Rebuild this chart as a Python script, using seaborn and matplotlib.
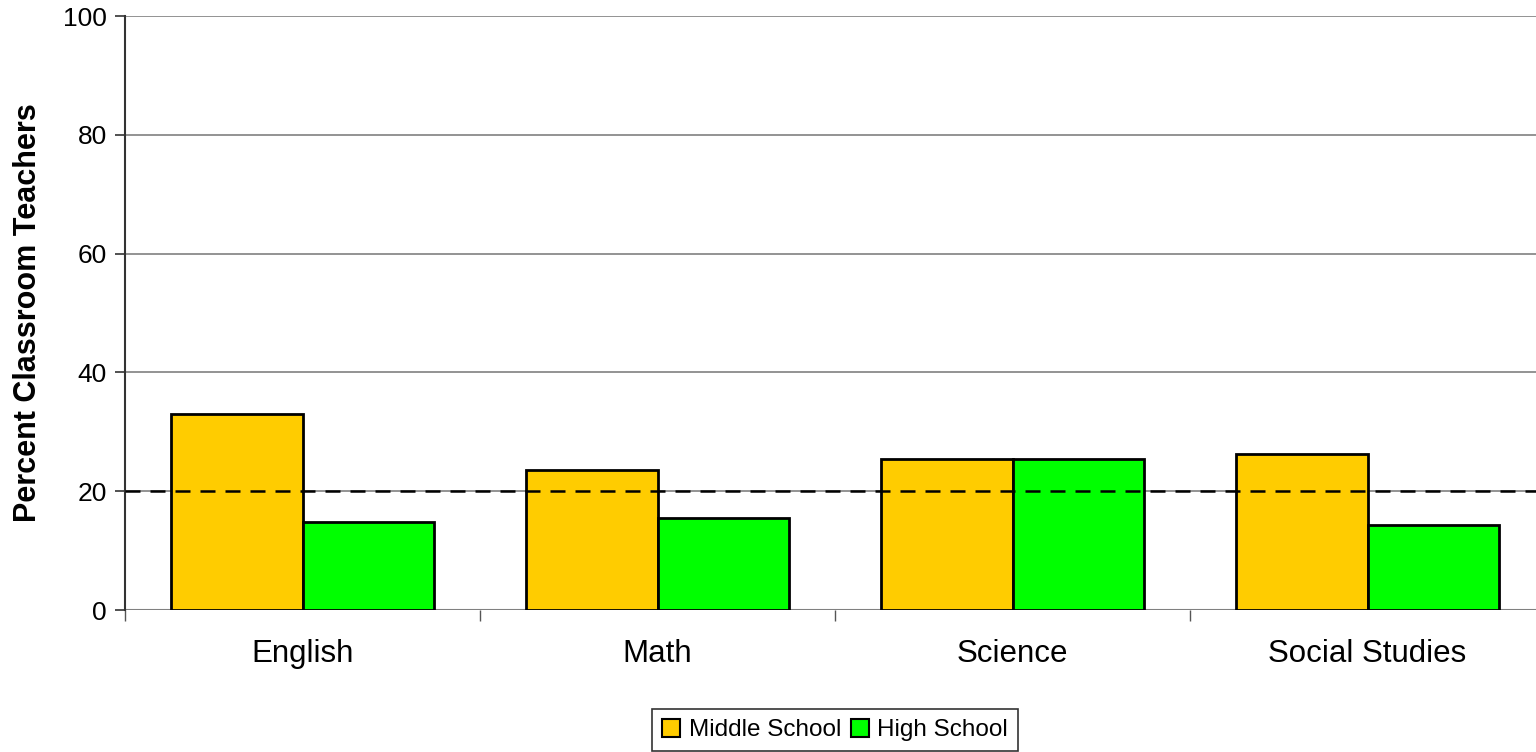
import numpy as np
import pandas as pd

import matplotlib
matplotlib.use("Agg")
import matplotlib.pyplot as plt
import seaborn as sns
from matplotlib.patches import Patch

sns.set_style("white")
plt.rcParams["font.family"] = ["Liberation Sans", "DejaVu Sans"]
plt.rcParams["text.color"] = "black"
plt.rcParams["axes.labelcolor"] = "black"
plt.rcParams["xtick.color"] = "black"
plt.rcParams["ytick.color"] = "black"

# --- data ---
subjects = ["English", "Math", "Science", "Social Studies"]
middle_school = [33.0, 23.6, 25.4, 26.3]
high_school = [14.8, 15.5, 25.4, 14.3]
levels = ["Middle School", "High School"]
level_colors = {"Middle School": "#FFCC00", "High School": "#00FF00"}
reference_line = 20

df = pd.DataFrame({
    "subject": subjects * 2,
    "level": [levels[0]] * len(subjects) + [levels[1]] * len(subjects),
    "value": middle_school + high_school,
})

fig = plt.figure(figsize=(15.36, 7.52), dpi=100)
ax = fig.add_axes([125 / 1536, 142 / 752, 1420 / 1536, 594 / 752])

# gridlines behind bars
for y in [20, 40, 60, 80, 100]:
    ax.axhline(y, color="#808080", lw=1.2, zorder=0)

sns.barplot(data=df, x="subject", y="value", hue="level", palette=level_colors,
            width=0.74, edgecolor="black", linewidth=2, saturation=1,
            ax=ax, legend=False, zorder=2)

ax.axhline(reference_line, color="black", lw=1.8, ls=(0, (6, 4)), zorder=3)
ax.axhline(0, color="#808080", lw=1.5, zorder=1)

ax.set_xlim(-0.5, 3.5)
ax.set_ylim(0, 100)
ax.set_yticks([0, 20, 40, 60, 80, 100])
ax.set_xticks([0, 1, 2, 3])
ax.set_xticklabels(subjects, fontsize=22.5)
ax.tick_params(axis="x", length=0, pad=21)
ax.tick_params(axis="y", labelsize=19, length=7, width=1.2, color="#333333",
               direction="out", left=True, pad=6)
# category boundary ticks on x axis
ax.set_xticks([-0.5, 0.5, 1.5, 2.5], minor=True)
ax.tick_params(axis="x", which="minor", length=8, width=1, color="#555555",
               direction="out", bottom=True)

for side in ["top", "right", "bottom"]:
    ax.spines[side].set_visible(False)
ax.spines["left"].set_bounds(0, 100)
ax.spines["left"].set_color("#333333")
ax.spines["left"].set_linewidth(1.5)

ax.set_xlabel("")
ax.set_ylabel("Percent Classroom Teachers", fontsize=22, fontweight="bold")
ax.yaxis.set_label_coords(-82 / 1420, 0.5)

handles = [Patch(facecolor=level_colors[l], edgecolor="black", linewidth=1.5, label=l)
           for l in levels]
leg = fig.legend(handles=handles, loc="center", bbox_to_anchor=(835 / 1536, 1 - 730 / 752),
                 ncol=2, fontsize=17.5, frameon=True, fancybox=False, handlelength=0.75,
                 handleheight=0.75, handletextpad=0.35, columnspacing=0.4,
                 borderpad=0.4, borderaxespad=0, edgecolor="black")
leg.get_frame().set_linewidth(1.2)

fig.savefig("out.png", dpi=100, facecolor="white")
